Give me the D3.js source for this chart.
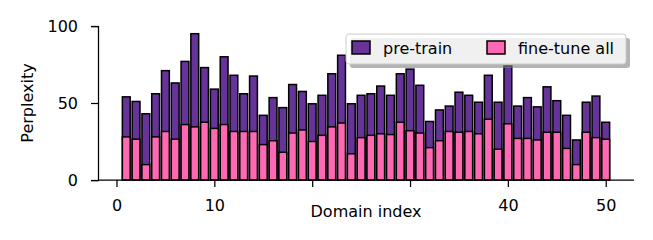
<!DOCTYPE html>
<html>
<head>
<meta charset="utf-8">
<script src="https://cdn.jsdelivr.net/npm/d3@7"></script>
<style>
  html, body { margin: 0; padding: 0; background: #fff; }
  svg text { font-family: "DejaVu Sans", sans-serif; fill: #000; }
</style>
</head>
<body>
<svg id="chart" width="653" height="240"></svg>
<script>
const domains = d3.range(1, 51);
const preTrain = [54, 51, 43, 56, 71, 63, 77, 95, 73, 59, 80, 68, 56, 67.5, 42, 53.5, 47, 62, 57.5, 49.5,
  55, 69, 81, 49.5, 55, 56, 61, 55, 69, 72, 61.5, 38, 45.5, 48, 57, 55, 50.5, 68, 50.5, 74,
  48, 53.5, 47.5, 60.5, 51.5, 42, 26, 50.5, 54.5, 37.5];
const fineTuneAll = [28, 26.5, 10, 28, 31.5, 26.5, 36, 34.5, 37.5, 33.5, 36, 31.5, 31.5, 31.5, 23, 25.5, 18, 30.5, 32.5, 25,
  29, 34.5, 37, 17, 27.5, 29, 30, 29.5, 37.5, 32, 30.5, 21, 25.5, 31.5, 31, 31.5, 30, 39.5, 20, 36.5,
  27, 27, 26, 31, 31, 20.5, 10, 31, 27.5, 26.5];
const xTicks = [0, 10, 20, 30, 40, 50];
const xTickLabels = ["0", "10", "", "", "40", "50"];
const yTicks = [0, 50, 100];
const seriesNames = ["pre-train", "fine-tune all"];
const colors = ["#663399", "#ff69b4"];

const svg = d3.select("#chart");
const L = 98, R = 634, T = 26, B = 180;
const barW = 0.8;
const x = d3.scaleLinear().domain([-1.89, 52.89]).range([L, R]);
const y = d3.scaleLinear().domain([0, 100]).range([B, T]);
const fs = 16;

// bars
[preTrain, fineTuneAll].forEach((vals, si) => {
  svg.append("g").selectAll("rect").data(domains).join("rect")
    .attr("x", d => x(d - barW / 2))
    .attr("width", d => x(d + barW / 2) - x(d - barW / 2))
    .attr("y", (d, i) => y(vals[i]))
    .attr("height", (d, i) => y(0) - y(vals[i]))
    .attr("fill", colors[si])
    .attr("stroke", "#000")
    .attr("stroke-width", 1.5);
});

// axes
const xAxis = d3.axisBottom(x).tickValues(xTicks)
  .tickFormat((d, i) => xTickLabels[i]).tickSizeOuter(0).tickSize(7).tickPadding(13);
const gx = svg.append("g").attr("transform", `translate(0,${B})`).call(xAxis);
gx.select(".domain").attr("d", `M${L},0H${R}`);
const yAxis = d3.axisLeft(y).tickValues(yTicks).tickSizeOuter(0).tickSize(7).tickPadding(13);
const gy = svg.append("g").attr("transform", `translate(${L},0)`).call(yAxis);
[gx, gy].forEach(g => {
  g.selectAll(".domain").attr("stroke", "#000").attr("stroke-width", 1.25);
  g.selectAll(".tick line").attr("stroke", "#000").attr("stroke-width", 1.25);
  g.selectAll(".tick text").attr("font-family", "DejaVu Sans").attr("font-size", fs).attr("fill", "#000");
});

// axis labels
svg.append("text").attr("x", (L + R) / 2).attr("y", 217).attr("text-anchor", "middle")
  .attr("font-size", fs).text("Domain index");
svg.append("text").attr("transform", `translate(33,${(T + B) / 2}) rotate(-90)`)
  .attr("text-anchor", "middle").attr("font-size", fs).text("Perplexity");

// legend
const lg = svg.append("g");
lg.append("rect").attr("x", 350).attr("y", 38).attr("width", 280).attr("height", 30).attr("rx", 3)
  .attr("fill", "#808080").attr("opacity", 0.6);
lg.append("rect").attr("x", 346).attr("y", 34).attr("width", 280).attr("height", 30).attr("rx", 3)
  .attr("fill", "#fff").attr("fill-opacity", 0.8).attr("stroke", "#cccccc").attr("stroke-width", 1);
const legX = [352, 487], textX = [383, 518];
seriesNames.forEach((name, i) => {
  lg.append("rect").attr("x", legX[i]).attr("y", 41).attr("width", 18).attr("height", 13)
    .attr("fill", colors[i]).attr("stroke", "#000").attr("stroke-width", 1.5);
  lg.append("text").attr("x", textX[i]).attr("y", 54).attr("font-size", fs).text(name);
});
</script>
</body>
</html>
